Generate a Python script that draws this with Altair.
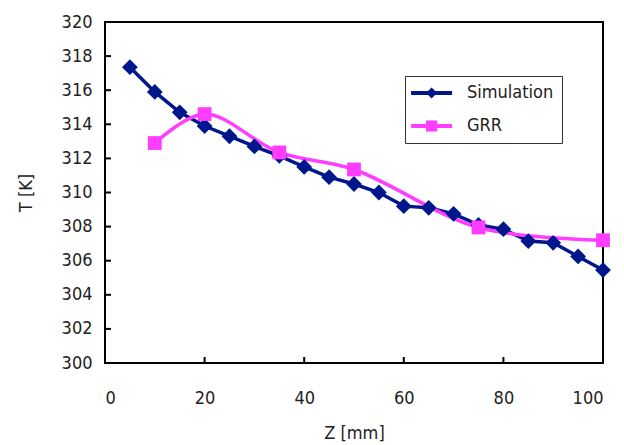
import altair as alt
import pandas as pd

# ---- data ----
sim_z = [5, 10, 15, 20, 25, 30, 35, 40, 45, 50, 55, 60, 65, 70, 75, 80, 85, 90, 95, 100]
sim_t = [317.35, 315.9, 314.7, 313.9, 313.3, 312.7, 312.15, 311.5, 310.9, 310.5,
         310.0, 309.2, 309.1, 308.75, 308.1, 307.85, 307.15, 307.05, 306.25, 305.45]
grr_z = [10, 20, 35, 50, 75, 100]
grr_t = [312.9, 314.6, 312.35, 311.35, 307.95, 307.2]
series = ["Simulation", "GRR"]
colors = ["#00168C", "#FF3CFF"]
y_ticks = [300, 302, 304, 306, 308, 310, 312, 314, 316, 318, 320]
x_ticks = [0, 20, 40, 60, 80, 100]

sim = pd.DataFrame({"z": sim_z, "t": sim_t, "series": series[0]})
grr = pd.DataFrame({"z": grr_z, "t": grr_t, "series": series[1]})
yt = pd.DataFrame({"v": y_ticks})
xt = pd.DataFrame({"v": x_ticks})

FONT = "DejaVu Sans Condensed, Liberation Sans Narrow, sans-serif"
FS = 18
W, H = 498, 341

xs = alt.Scale(domain=[0, 100], nice=False, zero=False)
ys = alt.Scale(domain=[300, 320], nice=False, zero=False)
cscale = alt.Scale(domain=series, range=colors)

xax = alt.Axis(values=x_ticks, title="Z [mm]", grid=False, ticks=False, domain=False,
               labelPadding=26, titlePadding=17, labelOverlap=False)
yax = alt.Axis(values=y_ticks, title="T [K]", grid=False, ticks=False, domain=False,
               labelPadding=13, titlePadding=26, labelOverlap=False)

# legend symbols: line + marker
u_dx, L, t, d = 1.37, 2.93, 0.28, 0.8
def bar():
    return (f"M{u_dx-L},{-t}L{u_dx+L},{-t}L{u_dx+L},{t}L{u_dx-L},{t}Z")
sim_path = bar() + f"M{u_dx},{-d}L{u_dx+d},0L{u_dx},{d}L{u_dx-d},0Z"
grr_path = bar() + f"M{u_dx-d},{-d}L{u_dx+d},{-d}L{u_dx+d},{d}L{u_dx-d},{d}Z"

leg = alt.Legend(title=None, orient="none", legendX=300, legendY=54,
                 padding=8, symbolSize=196, labelOffset=36,
                 rowPadding=15, strokeColor="#333",
                 labelFont=FONT, labelFontSize=FS, labelColor="#222",
                 symbolStrokeWidth=0)

X = alt.X("z:Q", scale=xs, axis=xax)
Y = alt.Y("t:Q", scale=ys, axis=yax)
C = alt.Color("series:N", scale=cscale)

sim_line = alt.Chart(sim).mark_line(strokeWidth=3.5).encode(x=X, y=Y, color=C)
sim_pts = alt.Chart(sim).mark_point(shape="diamond", filled=True, size=250, opacity=1).encode(
    x=X, y=Y, color=C)
grr_line = alt.Chart(grr).mark_line(strokeWidth=3.5, interpolate="catmull-rom").encode(
    x=X, y=Y, color=C)
grr_pts = alt.Chart(grr).mark_point(shape="square", filled=True, size=190, opacity=1).encode(
    x=X, y=Y, color=C)

legend_layer = alt.Chart(sim).mark_point(filled=True, opacity=1).transform_filter("false").encode(
    x=X, y=Y,
    color=alt.Color("series:N", scale=cscale, legend=leg),
    shape=alt.Shape("series:N", scale=alt.Scale(domain=series, range=[sim_path, grr_path]),
                    legend=leg))

yticks = alt.Chart(yt).mark_rule(color="black", strokeWidth=2).encode(
    y=alt.Y("v:Q", scale=ys, axis=yax), x=alt.value(0), x2=alt.value(6))
xticks = alt.Chart(xt).mark_rule(color="black", strokeWidth=2).encode(
    x=alt.X("v:Q", scale=xs, axis=xax), y=alt.value(H), y2=alt.value(H - 6))

chart = alt.layer(yticks, xticks, sim_line, grr_line, sim_pts, grr_pts, legend_layer).properties(
    width=W, height=H,
    autosize=alt.AutoSizeParams(type="none"),
    padding={"left": 97, "top": 14, "right": 13, "bottom": 82},
).configure_view(stroke="black", strokeWidth=2).configure_axis(
    labelFont=FONT, labelFontSize=FS, labelColor="#222", labelOverlap=False,
    titleFont=FONT, titleFontSize=FS, titleColor="#222", titleFontWeight="normal",
)

chart.save("out.html", embed_options={"renderer": "svg", "actions": False})
